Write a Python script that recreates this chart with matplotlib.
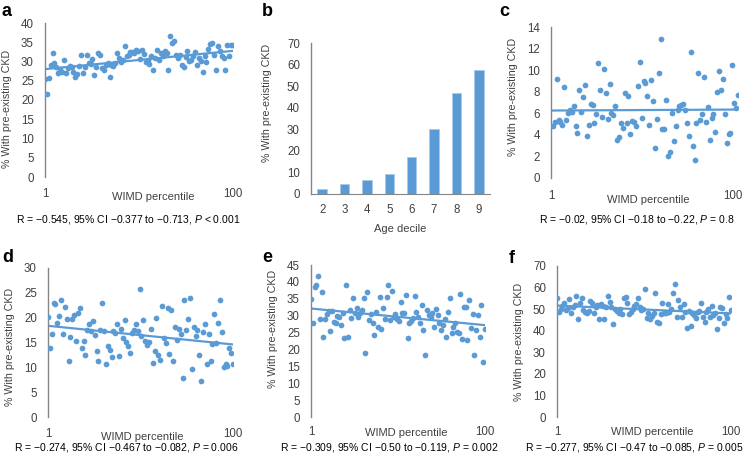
"""
Prevalence of pre-existing CKD by WIMD percentile and by age decile
"""

import numpy as np
import matplotlib
matplotlib.use('Agg')
import matplotlib.pyplot as plt

plt.rcParams['font.family'] = 'Liberation Sans'
plt.rcParams['mathtext.fontset'] = 'custom'
plt.rcParams['mathtext.it'] = 'Liberation Sans:italic'
plt.rcParams['mathtext.rm'] = 'Liberation Sans'

BLUE = '#5B9BD5'
GREY = '#868686'
TXT = '#404040'
W, H = 746, 466

# x for every scatter panel
percentile = np.arange(1, 101)

ckd_a = [25.5, 21.6, 25.8, 29.0, 32.3, 29.5, 28.5, 27.0, 28.0, 27.2,
         30.4, 27.0, 28.2, 28.8, 28.6, 27.3, 26.0, 26.8, 28.8, 31.7,
         27.0, 28.5, 31.7, 29.7, 29.3, 30.7, 26.6, 28.6, 32.2, 31.6,
         28.3, 27.8, 29.2, 29.5, 25.9, 29.0, 28.8, 29.7, 32.3, 31.0,
         30.0, 30.4, 33.9, 31.3, 31.8, 32.4, 32.5, 32.3, 32.9, 32.6,
         30.7, 32.9, 32.0, 29.8, 30.5, 29.3, 31.5, 27.8, 31.0, 32.9,
         30.4, 32.3, 31.3, 32.6, 32.3, 27.8, 36.5, 34.8, 35.2, 31.8,
         30.8, 31.6, 29.2, 28.7, 31.1, 32.6, 30.2, 30.3, 31.5, 32.5,
         29.0, 31.0, 30.1, 27.3, 31.5, 29.8, 33.3, 34.5, 34.7, 31.8,
         27.8, 33.9, 32.6, 31.5, 31.0, 27.8, 34.2, 31.3, 34.3, 34.3]

ckd_c = [4.8, 4.8, 5.2, 9.2, 5.4, 5.2, 4.9, 8.4, 5.4, 6.0,
         6.3, 6.1, 6.7, 4.8, 4.2, 8.2, 6.1, 7.5, 8.6, 3.9,
         4.9, 6.9, 6.8, 5.1, 5.9, 10.7, 8.2, 5.7, 10.1, 7.9,
         5.5, 8.7, 6.0, 5.8, 6.7, 3.5, 3.8, 5.1, 4.6, 7.9,
         5.1, 7.6, 4.1, 5.3, 5.2, 4.8, 8.5, 10.8, 5.6, 9.0,
         8.8, 7.6, 4.9, 9.1, 7.1, 2.8, 5.5, 9.7, 12.9, 4.5,
         4.5, 7.2, 2.0, 2.4, 6.0, 3.4, 4.8, 6.3, 6.7, 6.8,
         6.9, 6.3, 5.1, 3.9, 11.7, 3.0, 1.7, 5.1, 9.7, 5.4,
         5.9, 9.4, 5.2, 6.6, 3.5, 5.6, 5.9, 4.3, 8.0, 9.9,
         8.2, 9.2, 5.9, 3.2, 4.1, 4.2, 10.5, 7.0, 6.5, 7.7]

ckd_d = [20.2, 13.9, 16.8, 23.0, 22.7, 19.0, 20.4, 23.5, 16.8, 22.2,
         19.8, 11.3, 16.1, 19.7, 20.5, 15.4, 21.0, 22.0, 13.8, 15.4,
         12.5, 17.5, 18.8, 17.3, 19.3, 16.5, 13.2, 11.2, 17.5, 23.0,
         17.3, 10.7, 14.3, 13.5, 12.0, 17.4, 17.0, 18.8, 12.3, 17.8,
         16.0, 19.5, 15.2, 14.2, 12.9, 17.0, 17.6, 18.8, 17.3, 25.7,
         16.3, 19.5, 15.3, 14.5, 15.2, 17.7, 10.9, 13.3, 20.0, 12.5,
         11.4, 22.3, 16.0, 15.0, 21.9, 12.7, 21.6, 11.3, 18.1, 15.6,
         17.7, 16.8, 7.9, 23.5, 17.6, 19.7, 23.9, 9.7, 18.2, 16.4,
         17.5, 12.5, 7.3, 17.2, 18.8, 10.7, 16.8, 11.3, 14.7, 20.7,
         14.8, 19.0, 23.5, 17.2, 10.0, 10.7, 10.3, 13.8, 12.8, 10.7]

ckd_e = [34.8, 27.9, 38.4, 39.1, 41.7, 29.1, 36.9, 23.6, 28.9, 30.4,
         31.5, 25.4, 31.4, 28.1, 27.9, 29.9, 29.5, 27.2, 30.7, 23.5,
         39.0, 23.6, 31.6, 29.3, 35.1, 30.8, 32.2, 29.7, 30.7, 31.6,
         35.1, 19.0, 37.0, 28.7, 30.5, 27.7, 24.4, 31.2, 26.7, 35.4,
         26.2, 32.2, 28.9, 35.6, 39.1, 28.7, 37.4, 29.5, 30.5, 28.9,
         28.5, 34.1, 30.7, 30.9, 36.1, 23.3, 27.7, 28.4, 29.2, 35.7,
         31.0, 29.7, 27.9, 33.1, 25.7, 18.3, 31.6, 30.1, 29.5, 30.7,
         26.7, 32.1, 30.2, 27.7, 25.7, 27.1, 28.9, 23.8, 31.1, 35.1,
         24.9, 26.7, 27.9, 25.3, 24.8, 36.3, 23.1, 32.7, 32.7, 22.8,
         34.5, 26.4, 30.4, 18.5, 25.7, 30.2, 23.8, 33.3, 16.3, 26.2]

ckd_f = [55.0, 48.8, 49.9, 51.4, 52.7, 49.6, 50.4, 54.6, 48.1, 51.1,
         51.9, 56.2, 45.4, 52.7, 55.0, 49.6, 48.8, 48.4, 49.1, 53.9,
         53.0, 48.4, 51.1, 51.9, 45.2, 52.2, 51.4, 45.4, 51.1, 56.2,
         53.5, 51.1, 43.3, 49.9, 49.3, 48.1, 49.9, 47.8, 55.3, 55.8,
         53.0, 47.6, 48.8, 49.9, 51.6, 52.2, 55.2, 51.1, 49.6, 50.1,
         59.3, 46.0, 48.1, 45.2, 46.7, 48.1, 57.7, 44.2, 43.4, 47.8,
         53.0, 48.4, 48.1, 52.2, 48.8, 49.9, 57.3, 61.5, 46.5, 54.2,
         51.1, 46.5, 52.2, 48.8, 41.1, 49.3, 42.2, 48.4, 47.3, 46.0,
         48.8, 49.3, 53.0, 46.5, 44.2, 48.8, 49.9, 46.2, 51.4, 47.3,
         48.4, 40.6, 45.7, 51.1, 50.4, 43.4, 47.8, 45.7, 55.5, 49.6]

age_decile = ['2', '3', '4', '5', '6', '7', '8', '9']
ckd_age = [2.3, 4.5, 6.7, 9.4, 17.0, 30.0, 47.0, 57.3]

stats_a = 'R = \u22120.545, 95% CI \u22120.377 to \u22120.713, $P$ < 0.001'
stats_c = 'R = \u22120.02, 95% CI \u22120.18 to \u22120.22, $P$ = 0.8'
stats_d = 'R = \u22120.274, 95% CI \u22120.467 to \u22120.082, $P$ = 0.006'
stats_e = 'R = \u22120.309, 95% CI \u22120.50 to \u22120.119, $P$ = 0.002'
stats_f = 'R = \u22120.277, 95% CI \u22120.47 to \u22120.085, $P$ = 0.005'

YLABEL = '% With pre-existing CKD'


def fx(x):
    return x / W


def fy(y):
    return 1 - y / H


def make_axes(fig, left, top, right, bottom):
    # positions given in pixels from top-left
    return fig.add_axes([fx(left), fy(bottom), (right - left) / W, (bottom - top) / H])


def style_axes(ax, width_px, label_y):
    for s in ['top', 'right', 'bottom']:
        ax.spines[s].set_visible(False)
    ax.spines['left'].set_color(GREY)
    ax.spines['left'].set_linewidth(1.0)
    ax.tick_params(axis='y', length=0, pad=8, labelsize=8.3, labelcolor=TXT)
    ax.set_ylabel(YLABEL, fontsize=7.7, color=TXT)
    ax.yaxis.set_label_coords(-33 / width_px, label_y)


def scatter_panel(fig, box, values, ymax, ystep, letter, letter_xy,
                  stats, stats_xy, xlabel_xy, tick_y, label_y, right_tick_x=None):
    left, top, right, bottom = box
    ax = make_axes(fig, left, top, right, bottom)
    ax.scatter(percentile, values, s=17, color=BLUE, linewidths=0, zorder=3)
    slope, icpt = np.polyfit(percentile, values, 1)
    ends = np.array([percentile[0], percentile[-1]])
    ax.plot(ends, slope * ends + icpt, color=BLUE, lw=1.6, zorder=2)
    ax.set_xlim(1, 100)
    ax.set_ylim(0, ymax)
    ax.set_yticks(np.arange(0, ymax + 0.1, ystep))
    ax.set_xticks([])
    style_axes(ax, right - left, label_y)

    if right_tick_x is None:
        right_tick_x = right
    fig.text(fx(left), fy(tick_y), '1', ha='center', va='center', fontsize=8.3, color=TXT)
    fig.text(fx(right_tick_x), fy(tick_y), '100', ha='center', va='center',
             fontsize=8.3, color=TXT)
    fig.text(fx(xlabel_xy[0]), fy(xlabel_xy[1]), 'WIMD percentile',
             ha='center', va='center', fontsize=8, color=TXT)
    fig.text(fx(stats_xy[0]), fy(stats_xy[1]), stats,
             ha='center', va='center', fontsize=7.5, color='black')
    fig.text(fx(letter_xy[0]), fy(letter_xy[1]), letter, ha='left', va='baseline',
             fontsize=13, fontweight='bold', color='black')
    return ax


fig = plt.figure(figsize=(W / 100, H / 100), dpi=100)
fig.patch.set_facecolor('white')

# a
scatter_panel(fig, (45, 23, 233, 177), ckd_a, 40, 5, 'a', (1, 16),
              stats_a, (128, 219), (153, 197), 194, 0.44)

# b - bars by age decile
ax_b = make_axes(fig, 311, 43, 490, 194)
pos = np.arange(len(age_decile))
ax_b.bar(pos, ckd_age, width=0.42, color=BLUE, edgecolor='#A9C9EA', linewidth=0.6)
ax_b.set_xlim(-0.5, len(age_decile) - 0.5)
ax_b.set_ylim(0, 70)
ax_b.set_yticks(np.arange(0, 71, 10))
ax_b.set_xticks(pos)
ax_b.set_xticklabels(age_decile)
style_axes(ax_b, 490 - 311, 0.6)
ax_b.yaxis.set_label_coords(-39 / (490 - 311), 0.6)
ax_b.spines['bottom'].set_visible(True)
ax_b.spines['bottom'].set_color(GREY)
ax_b.tick_params(axis='x', length=0, pad=7, labelsize=8.3, labelcolor=TXT)
ax_b.set_xlabel('Age decile', fontsize=8, color=TXT, labelpad=6)
fig.text(fx(262), fy(16), 'b', ha='left', va='baseline',
         fontsize=13, fontweight='bold', color='black')

# c
scatter_panel(fig, (551, 27, 738, 178), ckd_c, 14, 2, 'c', (499, 16),
              stats_c, (637, 219), (648, 200), 196, 0.54, right_tick_x=733)

# d
scatter_panel(fig, (48, 268, 233, 417), ckd_d, 30, 5, 'd', (2, 262),
              stats_d, (126, 448), (142, 437), 434, 0.47)

# e
scatter_panel(fig, (311, 265, 485, 417), ckd_e, 45, 5, 'e', (262, 262),
              stats_e, (389, 448), (406, 433), 432, 0.58)

# f
scatter_panel(fig, (557, 266, 731, 417), ckd_f, 70, 10, 'f', (509, 263),
              stats_f, (634, 448), (652, 432), 432, 0.5)

plt.savefig('out.png', dpi=100, facecolor='white')
plt.close()
